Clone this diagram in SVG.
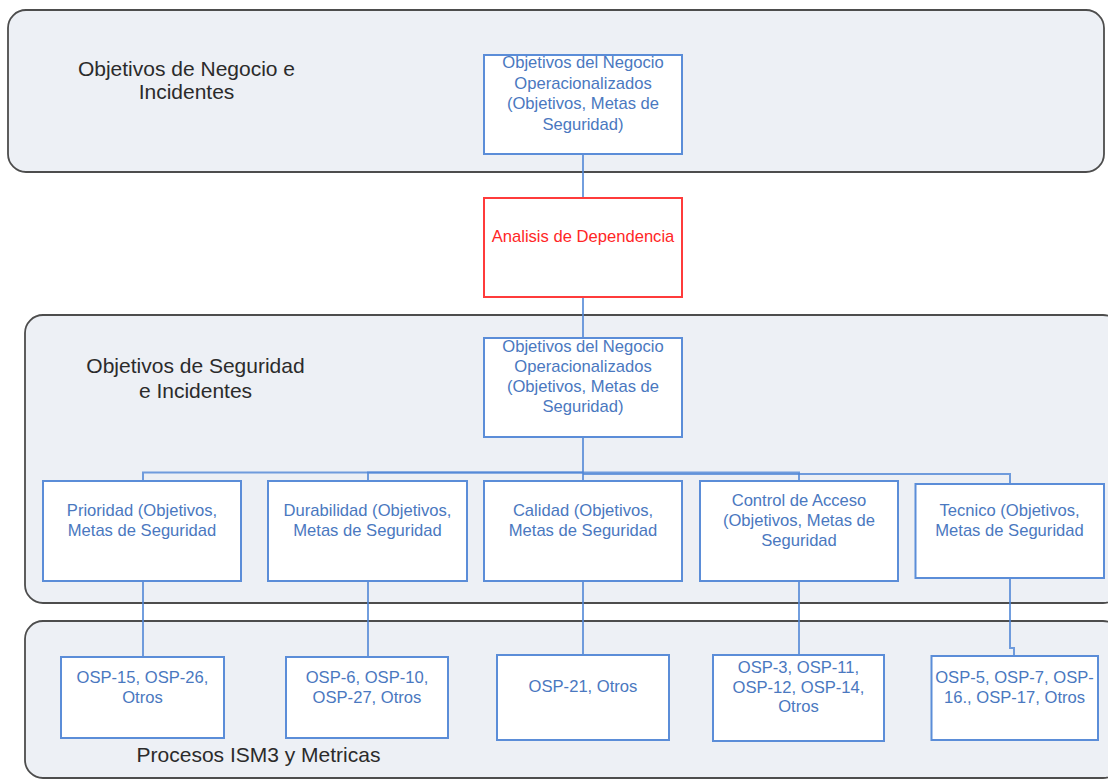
<svg xmlns="http://www.w3.org/2000/svg" width="1108" height="780" viewBox="0 0 1108 780">
  <style>
    .lane { fill: #edf0f5; stroke: #4d4d4d; stroke-width: 1.8; }
    .lane-title { font-family: "Liberation Sans", Arial, sans-serif; font-size: 21px; fill: #2b2b2b; text-anchor: middle; }
    .node rect { fill: #ffffff; stroke: #5b8dd8; stroke-width: 2; }
    .node text { font-family: "Liberation Sans", Arial, sans-serif; font-size: 16.6px; fill: #4a78c0; text-anchor: middle; }
    .alert rect { fill: #ffffff; stroke: #ff3b3b; stroke-width: 2; }
    .alert text { font-family: "Liberation Sans", Arial, sans-serif; font-size: 16.6px; fill: #ff2626; text-anchor: middle; }
    .link { fill: none; stroke: #4f86d6; stroke-width: 2; stroke-opacity: 0.8; }
  </style>

  <!-- swimlanes -->
  <g id="lane-negocio">
    <rect class="lane" x="8" y="10" width="1096" height="162" rx="18" ry="18"/>
    <text class="lane-title" x="186.5" y="76">Objetivos de Negocio e</text>
    <text class="lane-title" x="186.5" y="99">Incidentes</text>
  </g>
  <g id="lane-seguridad">
    <rect class="lane" x="25" y="315" width="1096" height="288" rx="18" ry="18"/>
    <text class="lane-title" x="195.5" y="372.5">Objetivos de Seguridad</text>
    <text class="lane-title" x="195.5" y="397.5">e Incidentes</text>
  </g>
  <g id="lane-procesos">
    <rect class="lane" x="25" y="621" width="1096" height="157" rx="18" ry="18"/>
    <text class="lane-title" x="258.5" y="762">Procesos ISM3 y Metricas</text>
  </g>

  <!-- connectors -->
  <g id="connectors">
    <path class="link" d="M583 154 V198"/>
    <path class="link" d="M583 297 V338"/>
    <path class="link" d="M583 437 V481"/>
    <path class="link" d="M583 472.5 H143 V481"/>
    <path class="link" d="M583 472.5 H368 V481"/>
    <path class="link" d="M583 472.5 H799 V481"/>
    <path class="link" d="M583 474 H1010 V484"/>
    <path class="link" d="M143 581 V657"/>
    <path class="link" d="M368 581 V657"/>
    <path class="link" d="M583 581 V655"/>
    <path class="link" d="M799 581 V655"/>
    <path class="link" d="M1010 578 V648 H1014 V656"/>
  </g>

  <!-- business objectives -->
  <g id="node-objetivos-negocio" class="node">
    <rect x="484" y="55" width="198" height="99"/>
    <text x="583" y="68">Objetivos del Negocio</text>
    <text x="583" y="88.5">Operacionalizados</text>
    <text x="583" y="109">(Objetivos, Metas de</text>
    <text x="583" y="129.5">Seguridad)</text>
  </g>

  <g id="node-analisis" class="alert">
    <rect x="484" y="198" width="198" height="99"/>
    <text x="583" y="242">Analisis de Dependencia</text>
  </g>

  <g id="node-objetivos-seguridad" class="node">
    <rect x="484" y="338" width="198" height="99"/>
    <text x="583" y="352">Objetivos del Negocio</text>
    <text x="583" y="372">Operacionalizados</text>
    <text x="583" y="392">(Objetivos, Metas de</text>
    <text x="583" y="412">Seguridad)</text>
  </g>

  <!-- security objective categories -->
  <g id="node-prioridad" class="node">
    <rect x="43" y="481" width="198" height="100"/>
    <text x="142" y="515.5">Prioridad (Objetivos,</text>
    <text x="142" y="535.5">Metas de Seguridad</text>
  </g>
  <g id="node-durabilidad" class="node">
    <rect x="268" y="481" width="199" height="100"/>
    <text x="367.5" y="515.5">Durabilidad (Objetivos,</text>
    <text x="367.5" y="535.5">Metas de Seguridad</text>
  </g>
  <g id="node-calidad" class="node">
    <rect x="484" y="481" width="198" height="100"/>
    <text x="583" y="515.5">Calidad (Objetivos,</text>
    <text x="583" y="535.5">Metas de Seguridad</text>
  </g>
  <g id="node-control-acceso" class="node">
    <rect x="700" y="481" width="198" height="100"/>
    <text x="799" y="505.5">Control de Acceso</text>
    <text x="799" y="525.5">(Objetivos, Metas de</text>
    <text x="799" y="545.5">Seguridad</text>
  </g>
  <g id="node-tecnico" class="node">
    <rect x="915.5" y="484" width="188.5" height="94"/>
    <text x="1009.5" y="515.5">Tecnico (Objetivos,</text>
    <text x="1009.5" y="535.5">Metas de Seguridad</text>
  </g>

  <!-- ISM3 processes -->
  <g id="node-osp-prioridad" class="node">
    <rect x="61" y="657" width="163" height="81"/>
    <text x="142.5" y="682.5">OSP-15, OSP-26,</text>
    <text x="142.5" y="702.5">Otros</text>
  </g>
  <g id="node-osp-durabilidad" class="node">
    <rect x="286" y="657" width="162" height="81"/>
    <text x="367" y="682.5">OSP-6, OSP-10,</text>
    <text x="367" y="702.5">OSP-27, Otros</text>
  </g>
  <g id="node-osp-calidad" class="node">
    <rect x="497" y="655" width="172" height="85"/>
    <text x="583" y="692">OSP-21, Otros</text>
  </g>
  <g id="node-osp-control" class="node">
    <rect x="713" y="655" width="171" height="86"/>
    <text x="798.5" y="672.5">OSP-3, OSP-11,</text>
    <text x="798.5" y="692.5">OSP-12, OSP-14,</text>
    <text x="798.5" y="712">Otros</text>
  </g>
  <g id="node-osp-tecnico" class="node">
    <rect x="931.5" y="656" width="166.5" height="84"/>
    <text x="1014.5" y="682.5">OSP-5, OSP-7, OSP-</text>
    <text x="1014.5" y="702.5">16., OSP-17, Otros</text>
  </g>
</svg>
